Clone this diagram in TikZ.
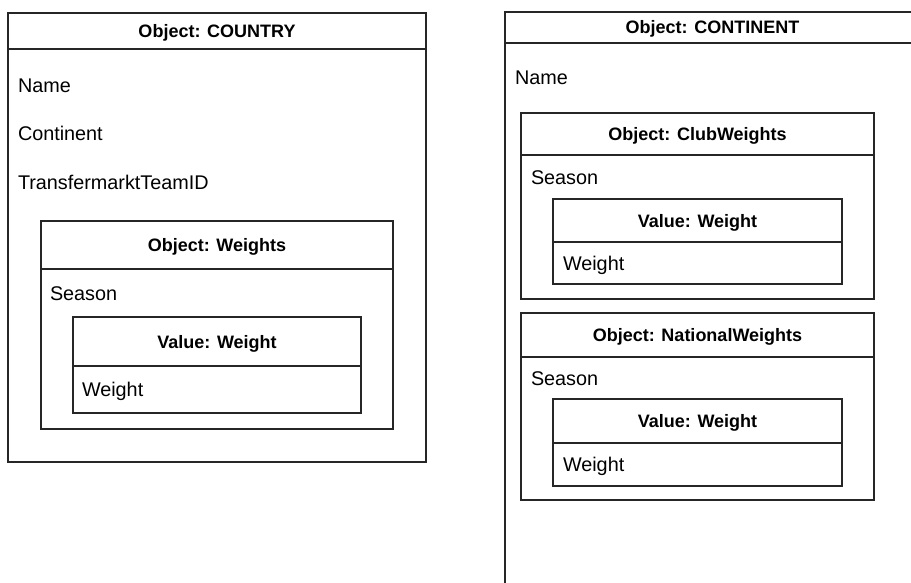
\documentclass[tikz,border=0pt]{standalone}
\usepackage{fontspec}
\setmainfont{Liberation Sans}
\usetikzlibrary{positioning}

\begin{document}
\begin{tikzpicture}[
    x=1pt, y=-1pt,
    line width=1.2pt,
    every node/.style={inner sep=0pt, outer sep=0pt},
    header/.style={draw=black!85, anchor=north west, minimum height=#1,
      text height=13pt, text depth=0pt,
      font=\fontsize{18}{20}\selectfont\bfseries},
    bodybox/.style={draw=black!85, anchor=north west, minimum height=#1},
    field/.style={anchor=west, text height=14.3pt, text depth=0pt,
      font=\fontsize{19.8}{22}\selectfont}
  ]
  \useasboundingbox (0,0) rectangle (911,583);
  \clip (0,0) rectangle (911,583);

  % Country object
  \node[header=36, minimum width=418] (countryhead) at (8,13) {Object: COUNTRY};
  \node[bodybox=413, minimum width=418] (countrybody) at (countryhead.south west) {};
  \node[field] (cname) at (18,85) {Name};
  \node[field] (ccont) at (18,133) {Continent};
  \node[field] (ctmid) at (18,182) {TransfermarktTeamID};

  % Weights inside country
  \node[header=48, minimum width=352] (weightshead) at (41,221) {Object: Weights};
  \node[bodybox=160, minimum width=352] (weightsbody) at (weightshead.south west) {};
  \node[field] (wseason) at (50,293) {Season};
  \node[header=49, minimum width=288] (valahead) at (73,317) {Value: Weight};
  \node[bodybox=47, minimum width=288] (valabody) at (valahead.south west) {};
  \node[field] (vaweight) at (82,389) {Weight};

  % Continent object (runs past the page edge)
  \node[header=31, minimum width=415] (conthead) at (505,12) {Object: CONTINENT};
  \node[bodybox=600, minimum width=415] (contbody) at (conthead.south west) {};
  \node[field] (kname) at (515,77) {Name};

  % ClubWeights
  \node[header=42, minimum width=353] (clubhead) at (521,113) {Object: ClubWeights};
  \node[bodybox=144, minimum width=353] (clubbody) at (clubhead.south west) {};
  \node[field] (clubseason) at (531,177) {Season};
  \node[header=43, minimum width=289] (valbhead) at (553,199) {Value: Weight};
  \node[bodybox=42, minimum width=289] (valbbody) at (valbhead.south west) {};
  \node[field] (vbweight) at (563,263) {Weight};

  % NationalWeights
  \node[header=44, minimum width=353] (nathead) at (521,313) {Object: NationalWeights};
  \node[bodybox=143, minimum width=353] (natbody) at (nathead.south west) {};
  \node[field] (natseason) at (531,378) {Season};
  \node[header=44, minimum width=289] (valchead) at (553,399) {Value: Weight};
  \node[bodybox=43, minimum width=289] (valcbody) at (valchead.south west) {};
  \node[field] (vcweight) at (563,464) {Weight};
\end{tikzpicture}
\end{document}
